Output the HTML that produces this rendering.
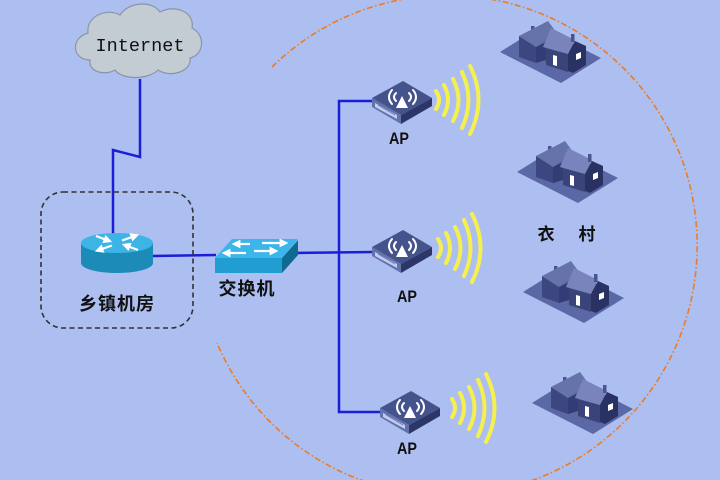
<!DOCTYPE html>
<html><head><meta charset="utf-8"><style>
html,body{margin:0;padding:0;width:720px;height:480px;overflow:hidden;background:#adbef0;}
svg{display:block;}
.cn{font-family:"Liberation Sans","Noto Sans CJK SC",sans-serif;font-weight:bold;fill:#111;}
</style></head><body>
<svg width="720" height="480" viewBox="0 0 720 480" xmlns="http://www.w3.org/2000/svg">
<defs>
<marker id="wa" markerWidth="4" markerHeight="4" refX="2" refY="2" orient="auto" markerUnits="strokeWidth"><path d="M0,0 L4,2 L0,4 Z" fill="#fff"/></marker>
<g id="ap">
<polygon points="372,247 401,264 401,273 372,256" fill="#6272ab"/>
<polygon points="401,264 432,247 432,255 401,273" fill="#2c3768"/>
<polygon points="372,247 403,230 432,247 401,264" fill="#45538c"/>
<polygon points="375,252 397,264 397,268 375,256" fill="#c4cdf0"/>
<line x1="378" y1="254" x2="395" y2="264" stroke="#7080b8" stroke-width="1"/>
<polygon points="402,245 396,257 408,257" fill="#fff"/>
<path d="M396,242 Q392,246 396,250 M392,239 Q386,246 392,253 M409,242 Q413,246 409,250 M413,239 Q419,246 413,253" stroke="#fff" stroke-width="2" fill="none" stroke-linecap="round"/>
</g>
<g id="wv" stroke="#f6f04e" stroke-width="4" fill="none" stroke-linecap="round">
<path d="M438,239 Q444,248 438,257"/>
<path d="M446,233 Q454,248 446,263"/>
<path d="M455,227 Q466,248 455,269"/>
<path d="M464,220 Q477,248 464,276"/>
<path d="M472,214 Q489,248 472,282"/>
</g>
<g id="house">
<polygon points="7,42 47,17 108,48 68,73" fill="#5b68a6"/>
<rect x="38" y="16" width="3.5" height="9" fill="#4a5590"/>
<polygon points="26,26 43,37 43,53 26,47" fill="#3c4680"/>
<polygon points="43,37 53,32 53,50 43,53" fill="#333c74"/>
<polygon points="53,38 75,44 75,62 53,55" fill="#3a4479"/>
<polygon points="26,26 55,11 63,22 43,37" fill="#6672aa"/>
<polygon points="50,37 58,18 82,30 75,44" fill="#7884bb"/>
<rect x="78" y="24" width="3.5" height="8" fill="#4a5590"/>
<polygon points="75,44 82,31 93,36 93,55 80,63 75,61" fill="#2a3263"/>
<polygon points="60,45 64,46 64,56 60,55" fill="#fff"/>
<polygon points="83,44 88,42 88,48 83,50" fill="#fff"/>
</g>
</defs>

<path d="M272,67 A250,250 0 1 1 217,343" fill="none" stroke="#f07a22" stroke-width="1.6" stroke-dasharray="6,2.5,1.5,2.5"/>

<path d="M90,60 C72,60 70,38 88,33 C86,15 108,8 120,15 C128,2 152,0 160,12 C175,4 195,12 192,28 C206,35 204,55 190,58 C192,72 170,78 158,70 C148,80 122,80 115,70 C105,76 88,72 90,60 Z" fill="#c3cbd3" stroke="#8895a8" stroke-width="1.2"/>
<text x="140" y="51" text-anchor="middle" font-family="Liberation Mono, monospace" font-size="18.5" fill="#111" textLength="89" lengthAdjust="spacingAndGlyphs">Internet</text>

<g stroke="#1a1ed6" stroke-width="2.5" fill="none">
<polyline points="140,79 140,157 113,150 113,234"/>
<line x1="152" y1="256" x2="216" y2="255"/>
<line x1="290" y1="253" x2="374" y2="252"/>
<polyline points="374,101 339,101 339,412 382,412"/>
</g>

<rect x="41" y="192" width="152" height="136" rx="22" ry="22" fill="none" stroke="#333" stroke-width="1.6" stroke-dasharray="5,3.5"/>

<path d="M81,243 L81,263 A36,10 0 0 0 153,263 L153,243 Z" fill="#1d8bb8"/>
<ellipse cx="117" cy="243" rx="36" ry="10" fill="#3cb4e6"/>
<g stroke="#fff" stroke-width="2.2" fill="none">
<line x1="96" y1="236" x2="108" y2="240.5" marker-end="url(#wa)"/>
<line x1="138" y1="250" x2="126" y2="245.5" marker-end="url(#wa)"/>
<line x1="112" y1="245.5" x2="99" y2="250" marker-end="url(#wa)"/>
<line x1="122" y1="240.5" x2="135" y2="236" marker-end="url(#wa)"/>
</g>

<polygon points="215,258 282,258 282,273 215,273" fill="#209ed2"/>
<polygon points="282,258 298,240 298,255 282,273" fill="#0f6a92"/>
<polygon points="215,258 232,239 298,239 282,258" fill="#3cb6ea"/>
<g stroke="#fff" stroke-width="2.2" fill="none">
<line x1="250" y1="244" x2="236" y2="244" marker-end="url(#wa)"/>
<line x1="262" y1="243" x2="284" y2="243" marker-end="url(#wa)"/>
<line x1="246" y1="253" x2="226" y2="253" marker-end="url(#wa)"/>
<line x1="254" y1="251" x2="274" y2="251" marker-end="url(#wa)"/>
</g>

<use href="#ap" transform="translate(0,-149)"/>
<use href="#ap"/>
<use href="#ap" transform="translate(8,161)"/>
<use href="#wv" transform="translate(-2,-148)"/>
<use href="#wv"/>
<use href="#wv" transform="translate(14,160)"/>

<use href="#house" transform="translate(493,10)"/>
<use href="#house" transform="translate(510,130)"/>
<use href="#house" transform="translate(516,250)"/>
<use href="#house" transform="translate(525,361)"/>

<text class="cn" x="117" y="310" text-anchor="middle" font-size="18" letter-spacing="1">乡镇机房</text>
<text class="cn" x="247" y="295" text-anchor="middle" font-size="18" letter-spacing="1">交换机</text>
<text class="cn" x="546" y="240" text-anchor="middle" font-size="17">衣</text>
<text class="cn" x="587" y="240" text-anchor="middle" font-size="17">村</text>
<g font-family="Liberation Sans, sans-serif" font-weight="bold" font-size="16.5" fill="#111">
<text x="389" y="144" textLength="20" lengthAdjust="spacingAndGlyphs">AP</text>
<text x="397" y="302" textLength="20" lengthAdjust="spacingAndGlyphs">AP</text>
<text x="397" y="454" textLength="20" lengthAdjust="spacingAndGlyphs">AP</text>
</g>
</svg>
</body></html>
